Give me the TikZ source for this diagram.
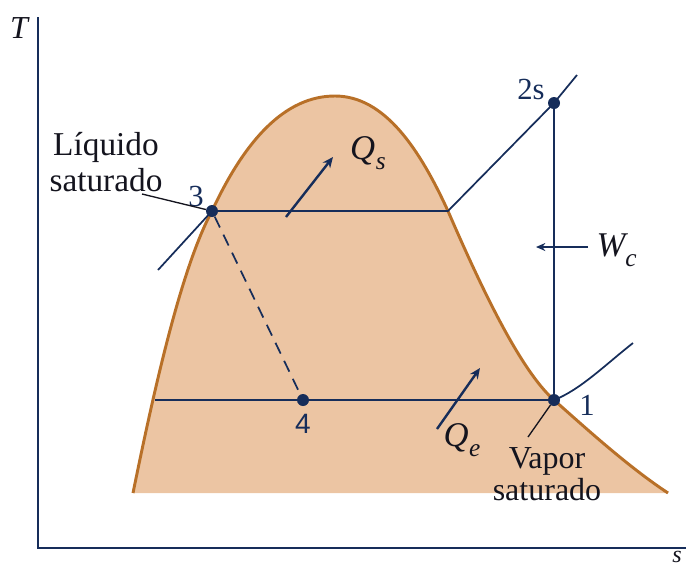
\documentclass[tikz,border=0pt]{standalone}
\usepackage{fontspec}
\setmainfont{Liberation Serif}
\newfontfamily\serf{Liberation Serif}
\newfontfamily\sansf{Liberation Sans}
\usetikzlibrary{arrows.meta}
\definecolor{domefill}{RGB}{236,197,163}
\definecolor{domeline}{RGB}{184,112,40}
\definecolor{navy}{RGB}{22,45,90}
\definecolor{txt}{RGB}{20,20,30}
\newcommand{\symQ}[1]{{\serf\itshape Q\kern0.5pt\raisebox{-0.28em}{\fontsize{19}{19}\selectfont #1}}}
\begin{document}
\begin{tikzpicture}[x=0.75pt,y=-0.75pt,
  proc/.style={navy,line width=1.3pt},
  axisline/.style={navy,line width=1.6pt},
  pt/.style={circle,fill=navy,inner sep=0pt,minimum size=9pt},
  lbl/.style={text=txt,inner sep=1pt,font=\serf\fontsize{23}{25}\selectfont},
  big/.style={text=txt,inner sep=1pt,font=\serf\fontsize{26}{28}\selectfont},
  heat/.style={navy,line width=1.8pt,-{Stealth[length=8pt,width=7pt]}},
  ptr/.style={txt,line width=1pt}]
\useasboundingbox (0,0) rectangle (686,569);
% dome
\fill[domefill] (133,493) .. controls (152,400) and (180,270) .. (212,211)
  .. controls (245,140) and (285,96) .. (335,96)
  .. controls (385,96) and (420,150) .. (448,211)
  .. controls (480,285) and (520,370) .. (554,400)
  .. controls (590,432) and (630,468) .. (668,493) -- cycle;
\draw[domeline,line width=2.2pt] (133,493) .. controls (152,400) and (180,270) .. (212,211)
  .. controls (245,140) and (285,96) .. (335,96)
  .. controls (385,96) and (420,150) .. (448,211)
  .. controls (480,285) and (520,370) .. (554,400)
  .. controls (590,432) and (630,468) .. (668,493);
% axes
\coordinate (otop) at (38,17);
\coordinate (orig) at (38,548);
\coordinate (send) at (686,548);
\draw[axisline] (otop) -- (orig) -- (send);
\node[text=txt,font=\serf\fontsize{24}{26}\selectfont\itshape] (Tl) at (19,28) {T};
\node[text=txt,font=\serf\fontsize{18}{20}\selectfont\itshape] (sl) at (677,557) {s};
% points
\node[pt] (p3) at (212,211) {};
\node[pt] (p4) at (303,400) {};
\node[pt] (p1) at (554,400) {};
\node[pt] (p2) at (554,103) {};
\coordinate (g) at (448,211);
\coordinate (l3) at (158,270);
\coordinate (l4) at (155,400);
\coordinate (sup2) at (577,75);
\coordinate (sup1) at (633,343);
% process lines
\draw[proc] (l3) -- (p3.center) -- (g) -- (p2.center) -- (sup2);
\draw[proc] (l4) -- (p1.center);
\draw[proc] (p2.center) -- (p1.center);
\draw[proc] (p1.center) .. controls (580,390) and (605,365) .. (sup1);
\draw[navy,line width=1.3pt,dash pattern=on 9pt off 6pt] (p3) -- (p4);
% labels of points
\node[lbl,text=navy] (n3) at (196,196) {3};
\node[lbl,text=navy,font=\sansf\fontsize{21}{23}\selectfont] (n4) at (303,424) {4};
\node[lbl,text=navy] (n1) at (587,405) {1};
\node[lbl,text=navy] (n2) at (531,89) {2s};
% heat and work arrows
\coordinate (qs0) at (286,217);
\coordinate (qs1) at (333,157);
\draw[heat] (qs0) -- (qs1);
\node[big] (Qs) at (368,153) {\symQ{s}};
\coordinate (qe0) at (437,429);
\coordinate (qe1) at (480,368);
\draw[heat] (qe0) -- (qe1);
\node[big] (Qe) at (462,440) {\symQ{e}};
\coordinate (w0) at (588,247);
\coordinate (w1) at (536,247);
\draw[navy,line width=1.5pt,-{Stealth[length=7pt,width=6pt]}] (w0) -- (w1);
\node[big,anchor=west] (Wc) at (595,250) {{\itshape W\raisebox{-0.28em}{\fontsize{19}{19}\selectfont c}}};
% state labels
\node[lbl,align=center,font=\serf\fontsize{25}{27}\selectfont] (liq) at (106,162) {Líquido\\saturado};
\coordinate (liqp) at (142,194);
\draw[ptr] (liqp) -- (p3);
\node[lbl,align=center,font=\serf\fontsize{24}{24}\selectfont] (vap) at (547,474) {Vapor\\saturado};
\coordinate (vapp) at (528,437);
\draw[ptr] (vapp) -- (p1);
\end{tikzpicture}
\end{document}
